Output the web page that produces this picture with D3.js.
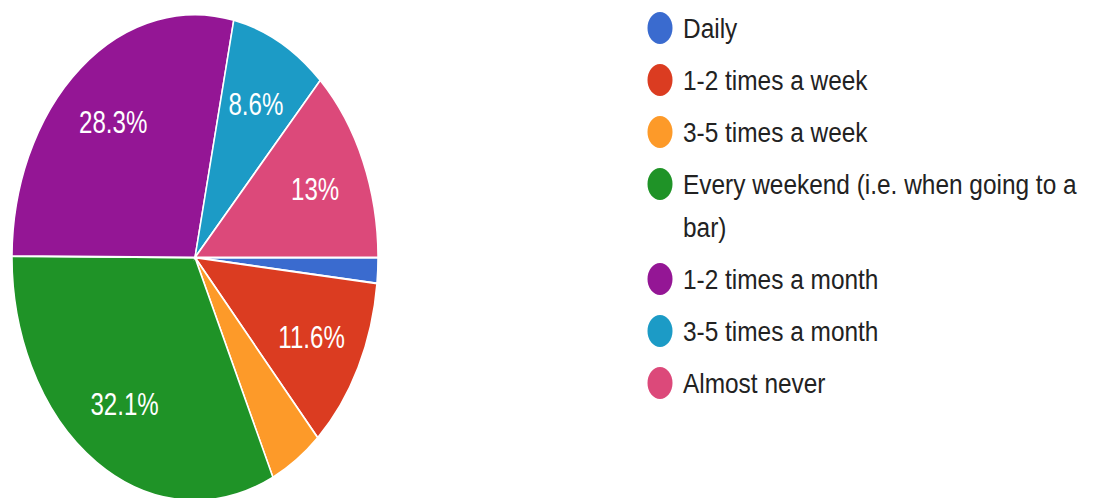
<!DOCTYPE html>
<html>
<head>
<meta charset="utf-8">
<script src="https://cdn.jsdelivr.net/npm/d3@7"></script>
<style>
  html, body { margin: 0; padding: 0; background: #fff; }
  svg { display: block; }
</style>
</head>
<body>
<div id="chart"></div>
<script>
// answers, in the order the pie draws them (clockwise from 3 o'clock)
var categories = [
  "Daily",
  "1-2 times a week",
  "3-5 times a week",
  "Every weekend (i.e. when going to a bar)",
  "1-2 times a month",
  "3-5 times a month",
  "Almost never"
];
var percents = [1.7, 11.6, 4.7, 32.1, 28.3, 8.6, 13.0];
var labels = ["", "11.6%", "", "32.1%", "28.3%", "8.6%", "13%"];
// legend rows, long entry wraps on two lines
var legendLines = [
  ["Daily"],
  ["1-2 times a week"],
  ["3-5 times a week"],
  ["Every weekend (i.e. when going to a", "bar)"],
  ["1-2 times a month"],
  ["3-5 times a month"],
  ["Almost never"]
];
var colors = ["#3a6bcf", "#db3c21", "#fd9a29", "#1f9327", "#941695", "#1c9bc6", "#dc497a"];

var width = 1094, height = 498;
var cx = 195, cy = 257.5;
var radius = 243;
var squeeze = 183 / 243;   // picture is narrower than it is tall

var svg = d3.select("#chart")
  .append("svg")
  .attr("width", width)
  .attr("height", height);

var data = categories.map(function (c, i) {
  return { name: c, value: percents[i], label: labels[i], color: colors[i] };
});

var pie = d3.pie()
  .sort(null)
  .value(function (d) { return d.value; })
  .startAngle(Math.PI / 2)
  .endAngle(Math.PI / 2 + 2 * Math.PI);

var arc = d3.arc().innerRadius(0).outerRadius(radius);
var labelArc = d3.arc().innerRadius(radius * 0.715).outerRadius(radius * 0.715);

var arcs = pie(data);

var pieG = svg.append("g")
  .attr("transform", "translate(" + cx + "," + cy + ") scale(" + squeeze + ",1)");

pieG.selectAll("path.slice")
  .data(arcs)
  .enter().append("path")
  .attr("class", "slice")
  .attr("d", arc)
  .attr("fill", function (d) { return d.data.color; })
  .attr("stroke", "#fff")
  .attr("stroke-width", 2);

// percentage labels (only the big slices get one)
svg.selectAll("text.pct")
  .data(arcs.filter(function (d) { return d.data.label !== ""; }))
  .enter().append("text")
  .attr("class", "pct")
  .attr("transform", function (d) {
    var c = labelArc.centroid(d);
    return "translate(" + (cx + c[0] * squeeze) + "," + (cy + c[1]) + ") scale(" + squeeze + ",1)";
  })
  .attr("text-anchor", "middle")
  .attr("dy", "0.36em")
  .attr("fill", "#fff")
  .style("font-family", "'Liberation Sans', Arial, sans-serif")
  .style("font-size", "32px")
  .text(function (d) { return d.data.label; });

// legend
var legendX = 660, textX = 683;
var legendFont = 27.5, legendSqueeze = 0.888;
var baseline = 38;
var rows = [];
legendLines.forEach(function (lines, i) {
  rows.push({ y: baseline, lines: lines, color: colors[i] });
  baseline += 52 + (lines.length - 1) * 43;
});

var legend = svg.append("g").attr("class", "legend");
var item = legend.selectAll("g.item")
  .data(rows)
  .enter().append("g")
  .attr("class", "item");

item.append("ellipse")
  .attr("cx", legendX)
  .attr("cy", function (d) { return d.y - 10; })
  .attr("rx", 12.5)
  .attr("ry", 16)
  .attr("fill", function (d) { return d.color; });

item.each(function (d) {
  var g = d3.select(this);
  d.lines.forEach(function (line, j) {
    g.append("text")
      .attr("transform", "translate(" + textX + "," + (d.y + j * 43) + ") scale(" + legendSqueeze + ",1)")
      .attr("fill", "#222")
      .style("font-family", "'Liberation Sans', Arial, sans-serif")
      .style("font-size", legendFont + "px")
      .text(line);
  });
});
</script>
</body>
</html>
